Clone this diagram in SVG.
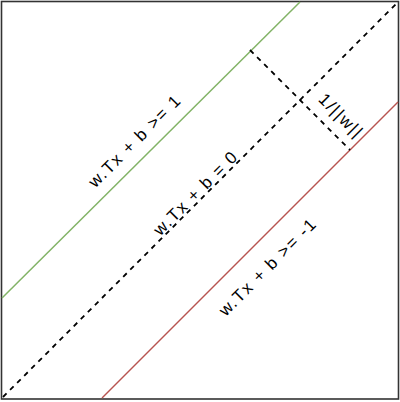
<svg xmlns="http://www.w3.org/2000/svg" width="400" height="402" viewBox="0 0 400 402">
<style>
.lbl{font-family:"Liberation Sans",Arial,sans-serif;font-size:17px;letter-spacing:1.6px;fill:#000;text-anchor:middle;dominant-baseline:central}
.dash{stroke:#000;stroke-width:1.8;stroke-dasharray:5 5;fill:none}
</style>
<rect x="0" y="0" width="400" height="402" fill="#fff"/>
<g id="frame"><rect x="1.5" y="1.5" width="397" height="397.5" fill="none" stroke="#333" stroke-width="1.6"/></g>
<g id="connectors">
<line id="margin-pos" x1="2" y1="298" x2="300" y2="2" stroke="#82b366" stroke-width="1.5"/>
<line id="margin-neg" x1="102" y1="398" x2="398" y2="102" stroke="#b85450" stroke-width="1.5"/>
<line id="boundary" class="dash" x1="3" y1="397" x2="397" y2="3"/>
<line id="width" class="dash" x1="250" y1="50" x2="350" y2="150"/>
</g>
<g id="label-pos"><text class="lbl" transform="translate(135,141) rotate(-45)">w.Tx + b &gt;= 1</text></g>
<g id="label-zero"><text class="lbl" transform="translate(196,193) rotate(-45)">w.Tx + b = 0</text></g>
<g id="label-neg"><text class="lbl" transform="translate(268,267) rotate(-45)">w.Tx + b &gt;= -1</text></g>
<g id="label-width"><text class="lbl" transform="translate(341,116) rotate(45)">1/||w||</text></g>
</svg>
